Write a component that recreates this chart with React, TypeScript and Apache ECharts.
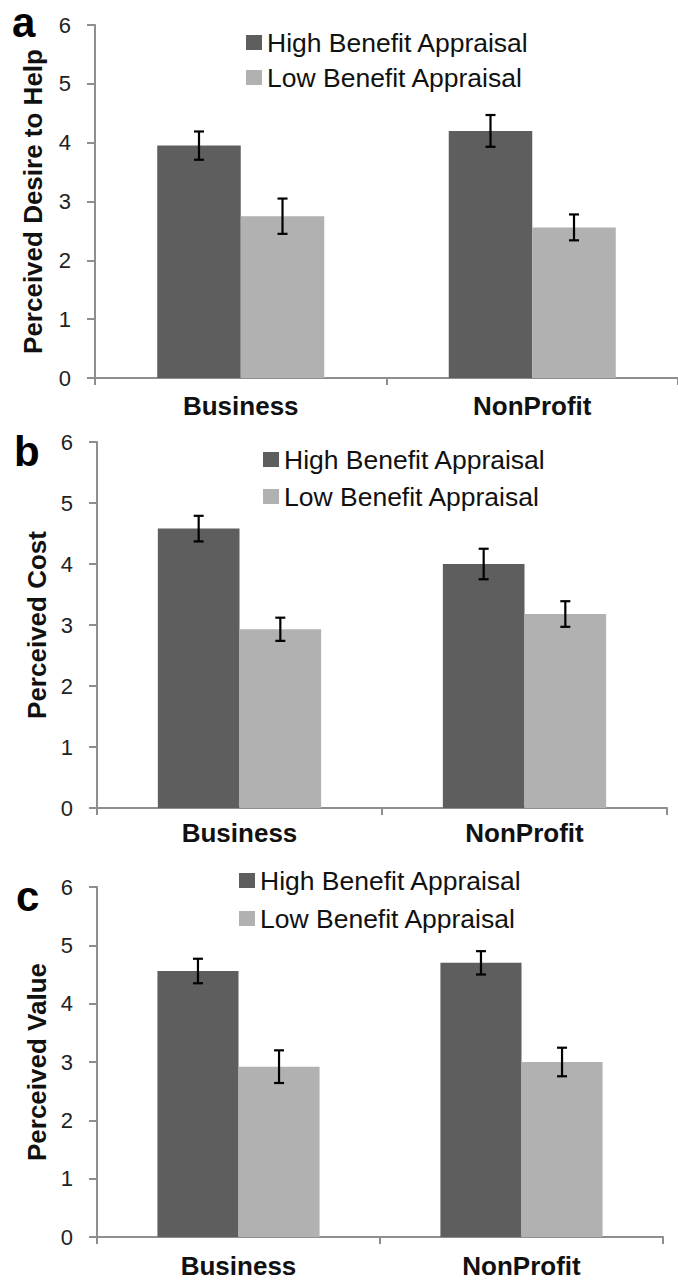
import React, { useEffect, useRef } from "react";
import * as echarts from "echarts";

const categories = ["Business", "NonProfit"];
const seriesNames = ["High Benefit Appraisal", "Low Benefit Appraisal"];
const yTicks = [0, 1, 2, 3, 4, 5, 6];

const desireHigh = [3.95, 4.2];
const desireHighErr = [0.24, 0.27];
const desireLow = [2.75, 2.56];
const desireLowErr = [0.3, 0.22];

const costHigh = [4.58, 4.0];
const costHighErr = [0.21, 0.25];
const costLow = [2.93, 3.18];
const costLowErr = [0.19, 0.21];

const valueHigh = [4.56, 4.7];
const valueHighErr = [0.21, 0.2];
const valueLow = [2.92, 3.0];
const valueLowErr = [0.28, 0.245];

const panelTitles = ["Perceived Desire to Help", "Perceived Cost", "Perceived Value"];
const panelLetters = ["a", "b", "c"];

const FONT = "Liberation Sans, Arial, Helvetica, sans-serif";
const DARK = "#5e5e5e";
const LIGHT = "#b1b1b1";
const AXIS = "#8e8e8e";
const CAT_GAP = 0.427;

const panels = [
  { high: desireHigh, highErr: desireHighErr, low: desireLow, lowErr: desireLowErr },
  { high: costHigh, highErr: costHighErr, low: costLow, lowErr: costLowErr },
  { high: valueHigh, highErr: valueHighErr, low: valueLow, lowErr: valueLowErr },
];

const layout = [
  { left: 95, top: 25, width: 584, height: 353, nameGap: 49, labelMargin: 15, legendLeft: 246, legendTop: 29, legendGap: 8, letterX: 12, letterY: 22 },
  { left: 97, top: 442, width: 570, height: 366, nameGap: 47, labelMargin: 12, legendLeft: 263, legendTop: 446, legendGap: 10, letterX: 14, letterY: 451 },
  { left: 97, top: 887, width: 566, height: 350, nameGap: 46, labelMargin: 16, legendLeft: 239, legendTop: 867, legendGap: 11, letterX: 16, letterY: 896 },
];

function errorRenderer(sign: number) {
  return (params: any, api: any) => {
    const x = api.value(0);
    const v = api.value(1);
    const e = api.value(2);
    const catW = api.size([1, 0])[0];
    const bw = (catW * (1 - CAT_GAP)) / 2;
    const c = api.coord([x, v]);
    const cx = c[0] + (sign * bw) / 2;
    const yt = api.coord([x, v + e])[1];
    const yb = api.coord([x, v - e])[1];
    const half = 5;
    const style = { stroke: "#000", lineWidth: 2.2 };
    return {
      type: "group",
      children: [
        { type: "line", shape: { x1: cx, y1: yt, x2: cx, y2: yb }, style },
        { type: "line", shape: { x1: cx - half, y1: yt, x2: cx + half, y2: yt }, style },
        { type: "line", shape: { x1: cx - half, y1: yb, x2: cx + half, y2: yb }, style },
      ],
    };
  };
}

export default function App() {
  const ref = useRef<HTMLDivElement>(null);
  useEffect(() => {
    if (!ref.current) return;
    const chart = echarts.init(ref.current, undefined, { renderer: "svg" });
    const grid: any[] = [];
    const xAxis: any[] = [];
    const yAxis: any[] = [];
    const legend: any[] = [];
    const series: any[] = [];
    const graphic: any[] = [];

    panels.forEach((p, i) => {
      const L = layout[i];
      grid.push({ left: L.left, top: L.top, width: L.width, height: L.height });
      xAxis.push({
        type: "category",
        gridIndex: i,
        data: categories,
        axisLine: { lineStyle: { color: AXIS, width: 2 } },
        axisTick: { show: true, length: 7, lineStyle: { color: AXIS, width: 2 } },
        axisLabel: { fontFamily: FONT, fontSize: 26, fontWeight: "bold", color: "#111", margin: L.labelMargin },
      });
      yAxis.push({
        type: "value",
        gridIndex: i,
        min: 0,
        max: 6,
        interval: 1,
        name: panelTitles[i],
        nameLocation: "middle",
        nameGap: L.nameGap,
        nameTextStyle: { fontFamily: FONT, fontSize: 26, fontWeight: "bold", color: "#111" },
        splitLine: { show: false },
        axisLine: { show: true, lineStyle: { color: AXIS, width: 2 } },
        axisTick: { show: true, length: 8, lineStyle: { color: AXIS, width: 2 } },
        axisLabel: {
          fontFamily: FONT,
          fontSize: 22,
          color: "#222",
          margin: 24,
          formatter: (v: number) => (yTicks.includes(v) ? String(v) : ""),
        },
      });
      legend.push({
        orient: "vertical",
        left: L.legendLeft,
        top: L.legendTop,
        padding: 0,
        itemGap: L.legendGap,
        itemWidth: 16,
        itemHeight: 15,
        icon: "rect",
        selectedMode: false,
        data: seriesNames,
        textStyle: { fontFamily: FONT, fontSize: 26.5, color: "#111" },
      });
      series.push({
        type: "bar",
        name: seriesNames[0],
        xAxisIndex: i,
        yAxisIndex: i,
        data: p.high,
        barGap: "0%",
        barCategoryGap: CAT_GAP * 100 + "%",
        itemStyle: { color: DARK },
      });
      series.push({
        type: "bar",
        name: seriesNames[1],
        xAxisIndex: i,
        yAxisIndex: i,
        data: p.low,
        barGap: "0%",
        barCategoryGap: CAT_GAP * 100 + "%",
        itemStyle: { color: LIGHT },
      });
      series.push({
        type: "custom",
        xAxisIndex: i,
        yAxisIndex: i,
        z: 5,
        renderItem: errorRenderer(-1),
        data: p.high.map((v, k) => [k, v, p.highErr[k]]),
      });
      series.push({
        type: "custom",
        xAxisIndex: i,
        yAxisIndex: i,
        z: 5,
        renderItem: errorRenderer(1),
        data: p.low.map((v, k) => [k, v, p.lowErr[k]]),
      });
      graphic.push({
        type: "text",
        x: L.letterX,
        y: L.letterY,
        style: {
          text: panelLetters[i],
          font: `bold 42px ${FONT}`,
          lineHeight: 30,
          fill: "#000",
          verticalAlign: "middle",
          align: "left",
        },
      });
    });

    chart.setOption({
      animation: false,
      backgroundColor: "#fff",
      grid,
      xAxis,
      yAxis,
      legend,
      series,
      graphic,
    });
    return () => chart.dispose();
  }, []);

  return (
    <div
      ref={ref}
      style={{ position: "absolute", left: 0, top: 0, width: 678, height: 1283 }}
    />
  );
}
